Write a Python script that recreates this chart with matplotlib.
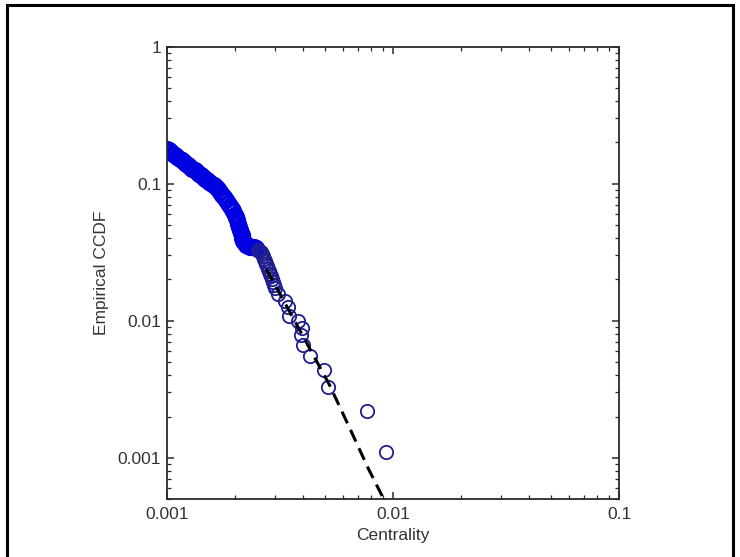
import matplotlib.pyplot as plt
from matplotlib.lines import Line2D

plt.rcParams['font.family'] = ['Liberation Sans', 'DejaVu Sans']

# empirical CCDF points (centrality, fraction)
centrality = [0.001000, 0.001022, 0.001045, 0.001068, 0.001091, 0.001115, 0.001140, 0.001165,
              0.001190, 0.001216, 0.001243, 0.001271, 0.001298, 0.001327, 0.001356, 0.001386,
              0.001417, 0.001448, 0.001480, 0.001512, 0.001545, 0.001579, 0.001614, 0.001650,
              0.001686, 0.001720, 0.001756, 0.001792, 0.001829, 0.001867, 0.001905, 0.001934,
              0.001963, 0.001994, 0.002025, 0.002045, 0.002066, 0.002087, 0.002109, 0.002130,
              0.002152, 0.002163, 0.002174, 0.002208, 0.002243, 0.002289, 0.002335, 0.002383,
              0.002432, 0.002482, 0.002532, 0.002571, 0.002611, 0.002638, 0.002665, 0.002693,
              0.002721, 0.002749, 0.002777, 0.002806, 0.002835, 0.002864, 0.002893, 0.002922,
              0.002951, 0.002981, 0.003012,
              0.00309, 0.00335, 0.00343, 0.00347, 0.00382, 0.00396, 0.00391, 0.00402,
              0.00432, 0.00494, 0.00514, 0.00770, 0.00932]
ccdf = [0.1801, 0.1751, 0.1703, 0.1656, 0.1611, 0.1566, 0.1523, 0.1481,
        0.1440, 0.1401, 0.1362, 0.1325, 0.1288, 0.1253, 0.1218, 0.1185,
        0.1152, 0.1120, 0.1089, 0.1059, 0.1030, 0.1002, 0.0974, 0.0947,
        0.0921, 0.0876, 0.0833, 0.0799, 0.0766, 0.0729, 0.0693, 0.0659,
        0.0627, 0.0596, 0.0567, 0.0539, 0.0512, 0.0487, 0.0463, 0.0440,
        0.0419, 0.0402, 0.0385, 0.0372, 0.0360, 0.0354, 0.0348, 0.0345,
        0.0343, 0.0337, 0.0331, 0.0323, 0.0315, 0.0305, 0.0295, 0.0283,
        0.0271, 0.0260, 0.0249, 0.0239, 0.0229, 0.0220, 0.0211, 0.0201,
        0.0191, 0.0181, 0.0172,
        0.0156, 0.0139, 0.0127, 0.0109, 0.0100, 0.0088, 0.0079, 0.0066,
        0.0055, 0.0044, 0.0033, 0.0022, 0.0011]

# fitted curve (dashed)
fit_x = [0.00276, 0.0040, 0.00526, 0.00646, 0.0078, 0.00897, 0.0092]
fit_y = [0.0238, 0.00774, 0.00337, 0.00163, 0.00083, 0.000526, 0.00048]

xticks = [0.001, 0.01, 0.1]
xlabels = ['0.001', '0.01', '0.1']
yticks = [0.001, 0.01, 0.1, 1]
ylabels = ['0.001', '0.01', '0.1', '1']

n_dense = 50  # where the circles pile up into a solid band

fig = plt.figure(figsize=(7.4, 5.57), dpi=100)
ax = fig.add_axes([0.2253, 0.1041, 0.6112, 0.8121])

ax.plot(centrality[:n_dense], ccdf[:n_dense], 'o', mfc='none', mec='#0000e0', mew=2.2, ms=10.2, zorder=2)
ax.plot(centrality[n_dense:], ccdf[n_dense:], 'o', mfc='none', mec='#1e1e90', mew=1.3, ms=9.6, zorder=2)
ax.plot(fit_x, fit_y, color='black', lw=2.2, ls=(0, (4.2, 2.4)), zorder=3)

ax.set_xscale('log')
ax.set_yscale('log')
ax.set_xlim(0.001, 0.1)
ax.set_ylim(0.0005, 1)
ax.set_xticks(xticks)
ax.set_xticklabels(xlabels)
ax.set_yticks(yticks)
ax.set_yticklabels(ylabels)

for s in ax.spines.values():
    s.set_color('#2a2a2a')
    s.set_linewidth(1.3)
ax.tick_params(which='both', direction='in', top=True, right=True, colors='#2a2a2a',
               labelcolor='#333333', labelsize=12.5)
ax.tick_params(which='major', length=5, width=1.1)
ax.tick_params(which='minor', length=3, width=0.9)
ax.tick_params(axis='x', pad=6)
ax.tick_params(axis='y', pad=4)

ax.set_xlabel('Centrality', fontsize=12.5, color='#333333', labelpad=4)
ax.set_ylabel('Empirical CCDF', fontsize=12.5, color='#333333', labelpad=6)

# black frame round the picture (bottom edge is cut off)
fig.add_artist(Line2D([7 / 740, 7 / 740], [0, 1 - 5 / 557], transform=fig.transFigure, color='black', lw=2.2))
fig.add_artist(Line2D([7 / 740, 733 / 740], [1 - 5 / 557, 1 - 5 / 557], transform=fig.transFigure, color='black', lw=2.2))
fig.add_artist(Line2D([733 / 740, 733 / 740], [0, 1 - 5 / 557], transform=fig.transFigure, color='black', lw=2.2))

fig.savefig('out.png', dpi=100, facecolor='white')
